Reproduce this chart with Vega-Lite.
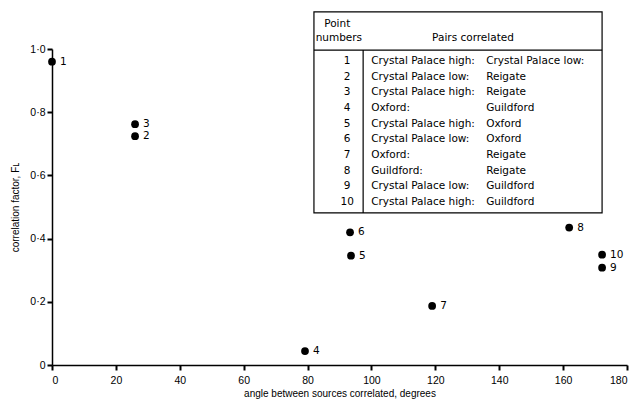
{
  "$schema": "https://vega.github.io/schema/vega-lite/v6.json",
  "width": 575,
  "height": 316,
  "autosize": {"type": "none"},
  "padding": {"left": 52, "top": 49, "right": 15, "bottom": 40},
  "background": "white",
  "config": {
    "view": {"stroke": null},
    "font": "Liberation Sans",
    "axis": {
      "domainColor": "black",
      "domainWidth": 1.5,
      "tickColor": "black",
      "tickWidth": 2,
      "grid": false,
      "labelFont": "Liberation Sans",
      "labelFontSize": 10.5,
      "labelColor": "black",
      "titleFont": "Liberation Sans",
      "titleFontSize": 10,
      "titleFontWeight": "normal",
      "titleColor": "black"
    }
  },
  "datasets": {
    "points": [
      {"num": "1", "angle": 0, "factor": 0.96},
      {"num": "2", "angle": 26, "factor": 0.724},
      {"num": "3", "angle": 26, "factor": 0.762},
      {"num": "4", "angle": 79.2, "factor": 0.044},
      {"num": "5", "angle": 93.6, "factor": 0.346},
      {"num": "6", "angle": 93.3, "factor": 0.42},
      {"num": "7", "angle": 119, "factor": 0.187},
      {"num": "8", "angle": 161.9, "factor": 0.435},
      {"num": "9", "angle": 172.2, "factor": 0.308},
      {"num": "10", "angle": 172.2, "factor": 0.349}
    ],
    "pairs": [
      {"num": 1, "a": "Crystal Palace high:", "b": "Crystal Palace low:"},
      {"num": 2, "a": "Crystal Palace low:", "b": "Reigate"},
      {"num": 3, "a": "Crystal Palace high:", "b": "Reigate"},
      {"num": 4, "a": "Oxford:", "b": "Guildford"},
      {"num": 5, "a": "Crystal Palace high:", "b": "Oxford"},
      {"num": 6, "a": "Crystal Palace low:", "b": "Oxford"},
      {"num": 7, "a": "Oxford:", "b": "Reigate"},
      {"num": 8, "a": "Guildford:", "b": "Reigate"},
      {"num": 9, "a": "Crystal Palace low:", "b": "Guildford"},
      {"num": 10, "a": "Crystal Palace high:", "b": "Guildford"}
    ],
    "one": [{}]
  },
  "layer": [
    {
      "data": {"name": "points"},
      "encoding": {
        "x": {
          "field": "angle",
          "type": "quantitative",
          "scale": {"domain": [0, 180], "nice": false, "zero": false},
          "axis": {
            "values": [0, 20, 40, 60, 80, 100, 120, 140, 160, 180],
            "ticks": true,
            "tickSize": 5,
            "labelPadding": 5,
            "title": "angle between sources correlated, degrees",
            "titlePadding": 3
          }
        },
        "y": {
          "field": "factor",
          "type": "quantitative",
          "scale": {"domain": [0, 1], "nice": false, "zero": false},
          "axis": {
            "values": [0, 0.2, 0.4, 0.6, 0.8, 1.0],
            "ticks": true,
            "tickSize": 5,
            "labelExpr": "datum.value == 0 ? '0' : replace(format(datum.value, '.1f'), '.', '·')",
            "labelPadding": 2,
            "title": "correlation factor, Fʟ",
            "titlePadding": 9
          }
        }
      },
      "layer": [
        {"mark": {"type": "point", "filled": true, "color": "black", "opacity": 1, "size": 60}},
        {
          "mark": {"type": "text", "align": "left", "baseline": "middle", "dx": 8, "font": "DejaVu Sans", "fontSize": 10.5, "color": "black"},
          "encoding": {"text": {"field": "num"}}
        }
      ]
    },
    {
      "layer": [
        {
          "data": {"name": "pairs"},
          "mark": {"type": "text", "align": "center", "baseline": "middle", "font": "DejaVu Sans", "fontSize": 10.5, "color": "black"},
          "encoding": {
            "x": {"datum": 92.4},
            "y": {"field": "num", "type": "quantitative", "scale": {"domain": [1, 10], "range": [12, 153], "nice": false, "zero": false}, "axis": null},
            "text": {"field": "num"}
          }
        },
        {
          "data": {"name": "pairs"},
          "mark": {"type": "text", "align": "left", "baseline": "middle", "font": "DejaVu Sans", "fontSize": 10.5, "color": "black"},
          "encoding": {
            "x": {"datum": 99.9},
            "y": {"field": "num", "type": "quantitative", "axis": null},
            "text": {"field": "a"}
          }
        },
        {
          "data": {"name": "pairs"},
          "mark": {"type": "text", "align": "left", "baseline": "middle", "font": "DejaVu Sans", "fontSize": 10.5, "color": "black"},
          "encoding": {
            "x": {"datum": 135.9},
            "y": {"field": "num", "type": "quantitative", "axis": null},
            "text": {"field": "b"}
          }
        },
        {
          "data": {"name": "one"},
          "mark": {"type": "text", "align": "center", "baseline": "middle", "font": "DejaVu Sans", "fontSize": 10.5, "color": "black"},
          "encoding": {"x": {"datum": 89.3}, "y": {"datum": -1.36, "axis": null}, "text": {"value": "Point"}}
        },
        {
          "data": {"name": "one"},
          "mark": {"type": "text", "align": "center", "baseline": "middle", "font": "DejaVu Sans", "fontSize": 10.5, "color": "black"},
          "encoding": {"x": {"datum": 89.8}, "y": {"datum": -0.47, "axis": null}, "text": {"value": "numbers"}}
        },
        {
          "data": {"name": "one"},
          "mark": {"type": "text", "align": "center", "baseline": "middle", "font": "DejaVu Sans", "fontSize": 10.5, "color": "black"},
          "encoding": {"x": {"datum": 131.8}, "y": {"datum": -0.47, "axis": null}, "text": {"value": "Pairs correlated"}}
        },
        {
          "data": {"name": "one"},
          "mark": {"type": "rect", "fill": null, "stroke": "black", "strokeWidth": 1.2},
          "encoding": {"x": {"datum": 82}, "x2": {"datum": 172.2}, "y": {"datum": -2.13, "axis": null}, "y2": {"datum": 10.7}}
        },
        {
          "data": {"name": "one"},
          "mark": {"type": "rule", "color": "black", "strokeWidth": 1.2},
          "encoding": {"x": {"datum": 82}, "x2": {"datum": 172.2}, "y": {"datum": 0.3, "axis": null}}
        },
        {
          "data": {"name": "one"},
          "mark": {"type": "rule", "color": "black", "strokeWidth": 1.2},
          "encoding": {"x": {"datum": 97.4}, "y": {"datum": 0.3, "axis": null}, "y2": {"datum": 10.7}}
        }
      ]
    }
  ],
  "resolve": {"scale": {"y": "independent"}, "axis": {"y": "independent"}}
}
